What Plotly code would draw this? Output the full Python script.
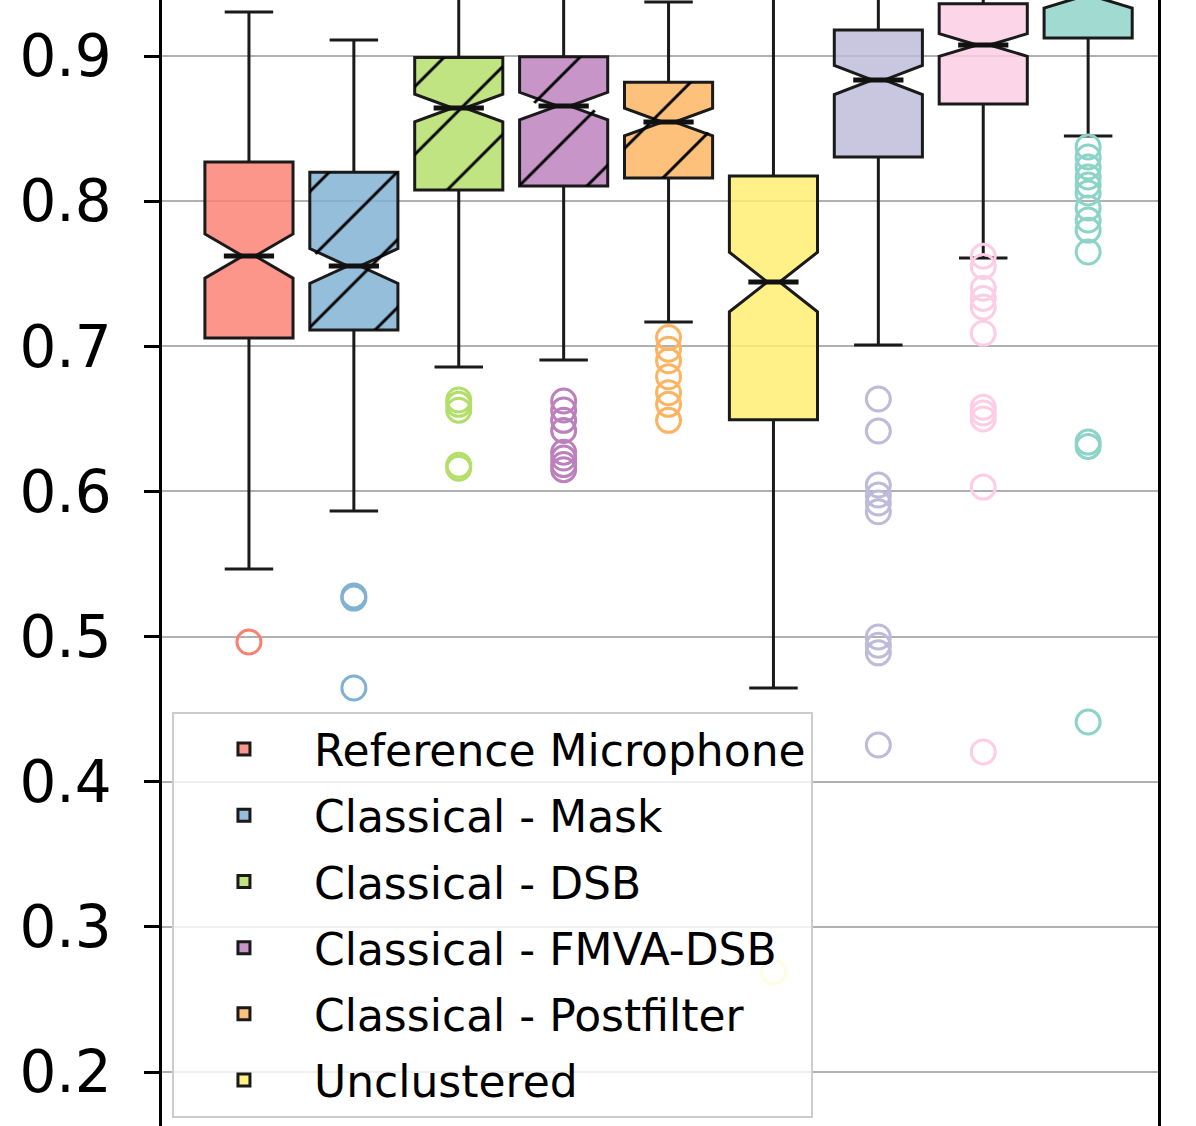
import plotly.graph_objects as go

# ---------------- data ----------------
names = ["Reference Microphone", "Classical - Mask", "Classical - DSB",
         "Classical - FMVA-DSB", "Classical - Postfilter", "Unclustered",
         "Series 7", "Series 8", "Series 9"]
show_in_legend = [True, True, True, True, True, True, False, False, False]
colors = ["#fb8072", "#80b1d3", "#b3de69", "#bc80bd", "#fdb462",
          "#ffed6f", "#bebada", "#fccde5", "#8dd3c7"]
hatched = [False, True, True, True, True, False, False, False, False]

q1 = [0.7057, 0.7112, 0.8077, 0.8104, 0.8160, 0.6494, 0.8304, 0.8670, 0.9124]
median = [0.7622, 0.7553, 0.8642, 0.8655, 0.8545, 0.7443, 0.8835, 0.9076, 0.9410]
q3 = [0.8270, 0.8200, 0.8990, 0.8995, 0.8820, 0.8173, 0.9180, 0.9360, 0.9650]
lowerfence = [0.5466, 0.5865, 0.6857, 0.6905, 0.7167, 0.4646, 0.7009, 0.7608, 0.8449]
upperfence = [0.9303, 0.9110, 0.9700, 0.9750, 0.9373, 0.9900, 0.9750, 0.9900, 0.9900]
notchspan = [0.0152, 0.0120, 0.0095, 0.0095, 0.0095, 0.0205, 0.0100, 0.0078, 0.0080]

outliers = [
    [0.4963],
    [0.5280, 0.5265, 0.4646],
    [0.6630, 0.6600, 0.6560, 0.6180, 0.6160],
    [0.6623, 0.6561, 0.6490, 0.6420, 0.6270, 0.6230, 0.6185, 0.6150],
    [0.7060, 0.6980, 0.6900, 0.6790, 0.6680, 0.6600, 0.6490],
    [0.2689],
    [0.6637, 0.6416, 0.6044, 0.5975, 0.5920, 0.5860, 0.4997, 0.4940, 0.4888, 0.4253],
    [0.7620, 0.7550, 0.7400, 0.7330, 0.7270, 0.7090, 0.6580, 0.6540, 0.6500, 0.6030, 0.4205],
    [0.8373, 0.8304, 0.8235, 0.8166, 0.8111, 0.8056, 0.7953, 0.7870, 0.7800, 0.7650,
     0.6340, 0.6310, 0.4411],
]

ytick_vals = [0.2, 0.3, 0.4, 0.5, 0.6, 0.7, 0.8, 0.9]

# ---------------- style ----------------
BOX_W = 0.84
NOTCH_W = 0.43
FONT = "DejaVu Sans"


def rgba(hexc, a):
    h = hexc.lstrip("#")
    r, g, b = int(h[0:2], 16), int(h[2:4], 16), int(h[4:6], 16)
    return f"rgba({r},{g},{b},{a})"


fig = go.Figure()

for i, n in enumerate(names):
    fig.add_trace(go.Box(
        x=[i], q1=[q1[i]], median=[median[i]], q3=[q3[i]],
        lowerfence=[lowerfence[i]], upperfence=[upperfence[i]],
        notchspan=[notchspan[i]], notched=True, notchwidth=NOTCH_W,
        width=BOX_W, whiskerwidth=0.55, boxpoints=False,
        fillcolor=rgba(colors[i], 0.83),
        line=dict(color="#1a1a1a", width=3),
        name=n, legendgroup=n, showlegend=show_in_legend[i],
        hoverinfo="skip",
    ))

hw = BOX_W / 2
hn = hw * (1 - NOTCH_W)

# hatching overlay for hatched boxes (polygon built from the box statistics)
for i, n in enumerate(names):
    if not hatched[i]:
        continue
    lo_n = median[i] - notchspan[i]
    hi_n = median[i] + notchspan[i]
    xs = [i - hw, i + hw, i + hw, i + hn, i + hw, i + hw, i - hw, i - hw, i - hn, i - hw, i - hw]
    ys = [q1[i], q1[i], lo_n, median[i], hi_n, q3[i], q3[i], hi_n, median[i], lo_n, q1[i]]
    fig.add_trace(go.Scatter(
        x=xs, y=ys, mode="none", fill="toself",
        fillcolor="rgba(0,0,0,0)",
        fillpattern=dict(shape="/", fgcolor="#000000", fgopacity=1,
                         bgcolor="rgba(0,0,0,0)", size=48, solidity=0.06),
        showlegend=False, hoverinfo="skip", legendgroup=n,
    ))

# thicker median lines
for i, n in enumerate(names):
    fig.add_trace(go.Scatter(
        x=[i - hn, i + hn], y=[median[i], median[i]], mode="lines",
        line=dict(color="#111111", width=5),
        showlegend=False, hoverinfo="skip", legendgroup=n,
    ))

# outliers
for i, n in enumerate(names):
    fig.add_trace(go.Scatter(
        x=[i] * len(outliers[i]), y=outliers[i], mode="markers",
        marker=dict(symbol="circle-open", size=24, color=colors[i],
                    line=dict(width=3, color=colors[i])),
        showlegend=False, hoverinfo="skip", legendgroup=n,
    ))

fig.update_layout(
    width=1196, height=1126,
    margin=dict(l=162, r=38, t=0, b=0),
    paper_bgcolor="white", plot_bgcolor="white",
    font=dict(family=FONT, color="black"),
    showlegend=True,
    legend=dict(
        x=0.01, y=0.3677, xanchor="left", yanchor="top",
        bgcolor="rgba(255,255,255,0.8)", bordercolor="#cccccc", borderwidth=2,
        font=dict(family=FONT, size=44, color="black"),
        traceorder="grouped", tracegroupgap=6, itemwidth=130,
    ),
    xaxis=dict(range=[-0.829, 8.666], showticklabels=False, ticks="",
               showgrid=False, zeroline=False, showline=False),
    yaxis=dict(range=[0.1628, 0.9386], tickvals=ytick_vals, tickformat=".1f",
               ticks="outside", ticklen=15, tickwidth=2.5, tickcolor="black",
               tickfont=dict(family=FONT, size=58, color="black"),
               ticklabelstandoff=21,
               showgrid=True, gridcolor="#b0b0b0", gridwidth=2,
               zeroline=False, showline=True, linecolor="black", linewidth=2.5,
               mirror=True, automargin=False),
)

fig.write_html("out.html", config={"displayModeBar": False},
               post_script="document.body.style.margin='0';")
